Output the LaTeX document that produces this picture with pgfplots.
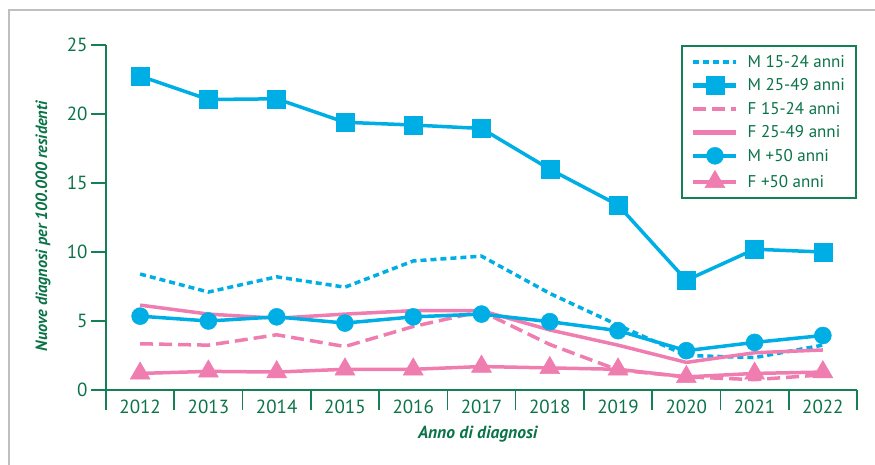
\documentclass[border=0pt]{standalone}
\usepackage{pgfplots}
\pgfplotsset{compat=1.18}
\usepackage{fontspec}
\setmainfont{PT Sans}
\definecolor{cy}{RGB}{0,174,230}
\definecolor{pk}{RGB}{240,125,176}
\definecolor{gr}{RGB}{20,128,84}
\definecolor{tg}{RGB}{10,115,72}
\begin{document}
\begin{tikzpicture}
\useasboundingbox (0pt,0pt) rectangle (875pt,465pt);
\draw[black!25, line width=1.5pt] (9pt,0pt) -- (9pt,455pt) -- (875pt,455pt);
\begin{axis}[
  at={(106pt,75pt)}, anchor=south west,
  scale only axis, width=751pt, height=345pt,
  xmin=-0.5, xmax=10.5, ymin=0, ymax=25,
  axis x line=bottom, axis y line=left,
  axis line style={gr, line width=1.6pt, -},
  tick align=outside,
  xtick={0,...,10},
  xticklabels={2012,2013,2014,2015,2016,2017,2018,2019,2020,2021,2022},
  minor xtick={-0.5,0.5,...,10.5},
  major x tick style={draw=none},
  minor x tick style={gr, line width=1.6pt},
  minor tick length=20pt,
  ytick={0,5,...,25},
  major y tick style={gr, line width=1.6pt},
  major tick length=15pt,
  tick label style={font=\fontsize{19}{19}\selectfont, text=tg},
  x tick label style={inner sep=0pt, yshift=5pt},
  /pgf/number format/assume math mode=true,
  xlabel={Anno di diagnosi},
  ylabel={Nuove diagnosi per 100.000 residenti},
  xlabel style={font=\fontsize{17.5}{17.5}\selectfont\bfseries\itshape, text=tg, at={(axis description cs:0.495,-0.1275)}, anchor=center},
  ylabel style={font=\fontsize{16.3}{16.3}\selectfont\bfseries\itshape, text=tg, at={(axis description cs:-0.084,0.475)}, anchor=center},
  legend style={at={(1,1)}, anchor=north east, draw=gr, line width=2pt, fill=white,
    font=\fontsize{17}{17}\selectfont, text=tg, row sep=5.8pt, inner xsep=9pt, inner ysep=7pt,
    /tikz/every odd column/.append style={column sep=7pt}},
  legend cell align=left,
  legend image code/.code={\draw[line width=4.5pt, mark repeat=2, mark phase=2] plot coordinates {(0pt,0pt)(21.5pt,0pt)(43pt,0pt)};},
]
\addplot[cy, line width=3.5pt, dash pattern=on 6pt off 4pt] coordinates {
(0,8.4)(1,7.1)(2,8.2)(3,7.45)(4,9.35)(5,9.7)(6,7.0)(7,4.7)(8,2.5)(9,2.35)(10,3.25)};
\addlegendentry{M 15-24 anni}
\addplot[cy, line width=3.5pt, mark=square*, mark size=9pt, mark options={solid, line width=0.5pt}] coordinates {
(0,22.75)(1,21.05)(2,21.1)(3,19.4)(4,19.2)(5,18.95)(6,16.0)(7,13.4)(8,7.95)(9,10.2)(10,10.0)};
\addlegendentry{M 25-49 anni}
\addplot[pk, line width=3.5pt, dash pattern=on 13pt off 6pt] coordinates {
(0,3.35)(1,3.25)(2,4.0)(3,3.15)(4,4.6)(5,5.7)(6,3.3)(7,1.45)(8,0.95)(9,0.75)(10,1.1)};
\addlegendentry{F 15-24 anni}
\addplot[pk, line width=3.5pt] coordinates {
(0,6.15)(1,5.5)(2,5.2)(3,5.5)(4,5.75)(5,5.75)(6,4.35)(7,3.25)(8,2.0)(9,2.7)(10,2.9)};
\addlegendentry{F 25-49 anni}
\addplot[cy, line width=3.5pt, mark=*, mark size=8.5pt, mark options={solid, line width=0.5pt}] coordinates {
(0,5.35)(1,5.0)(2,5.3)(3,4.85)(4,5.3)(5,5.5)(6,4.95)(7,4.3)(8,2.85)(9,3.45)(10,3.95)};
\addlegendentry{M +50 anni}
\addplot[pk, line width=3.5pt, mark=triangle*, mark size=11.5pt, mark options={solid, line width=0.5pt}] coordinates {
(0,1.2)(1,1.35)(2,1.3)(3,1.5)(4,1.5)(5,1.7)(6,1.6)(7,1.5)(8,0.95)(9,1.2)(10,1.3)};
\addlegendentry{F +50 anni}
\end{axis}
\end{tikzpicture}
\end{document}
